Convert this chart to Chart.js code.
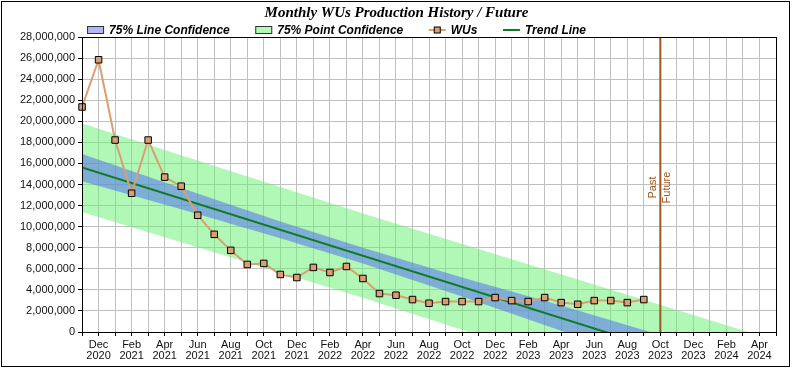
<!DOCTYPE html>
<html>
<head>
<meta charset="utf-8">
<script src="https://cdn.jsdelivr.net/npm/chart.js@4/dist/chart.umd.min.js"></script>
<style>
  html, body { margin: 0; padding: 0; background: #fff; }
  #wrap { width: 792px; height: 368px; }
</style>
</head>
<body>
<div id="wrap"><canvas id="wus-chart" width="792" height="368"></canvas></div>
<script>
// Month positions on the x axis (Nov 2020 .. May 2024)
const monthLabels = [
  "Nov 2020", "Dec 2020", "Jan 2021", "Feb 2021", "Mar 2021", "Apr 2021", "May 2021",
  "Jun 2021", "Jul 2021", "Aug 2021", "Sep 2021", "Oct 2021", "Nov 2021", "Dec 2021",
  "Jan 2022", "Feb 2022", "Mar 2022", "Apr 2022", "May 2022", "Jun 2022", "Jul 2022",
  "Aug 2022", "Sep 2022", "Oct 2022", "Nov 2022", "Dec 2022", "Jan 2023", "Feb 2023",
  "Mar 2023", "Apr 2023", "May 2023", "Jun 2023", "Jul 2023", "Aug 2023", "Sep 2023",
  "Oct 2023", "Nov 2023", "Dec 2023", "Jan 2024", "Feb 2024", "Mar 2024", "Apr 2024",
  "May 2024",
];

// Monthly WUs, Nov 2020 .. Sep 2023
const wusValues = [
  21360000, 25840000, 18220000, 13170000, 18220000, 14700000, 13840000, 11080000,
  9270000, 7750000, 6410000, 6510000, 5460000, 5170000, 6130000, 5650000, 6220000,
  5080000, 3650000, 3490000, 3080000, 2730000, 2890000, 2890000, 2890000, 3270000,
  2980000, 2890000, 3270000, 2790000, 2630000, 2980000, 2980000, 2790000, 3080000,
];

// Trend line end points (month index, value)
const trendMonths = [0, 42];
const trendValues = [15620000, -5090000];

// 75% line confidence band
const lineBandMonths = [0, 6, 12, 17, 23, 29, 35, 42];
const lineBandUpper = [16900000, 13660000, 10500000, 7990000, 5180000, 2520000, -290000, -3490000];
const lineBandLower = [14300000, 11660000, 8900000, 6490000, 3380000, 120000, -2990000, -6690000];

// 75% point confidence band
const pointBandMonths = [0, 17, 42];
const pointBandUpper = [19800000, 11240000, -800000];
const pointBandLower = [11400000, 3240000, -9400000];

const pastFutureMonth = "Oct 2023";

const yTickStep = 2000000;
const yMax = 28000000;

const WUS_COLOR = "#d89f72";
const TREND_COLOR = "#127a22";
const DIVIDER_COLOR = "#a0561e";

const toPoints = (xs, ys) => xs.map((x, i) => ({ x: x, y: ys[i] }));

// Легенда и рамки рисуем сами
const decorPlugin = {
  id: "decor",
  afterDatasetsDraw(chart) {
    const { ctx, chartArea, scales } = chart;
    const xPos = scales.x.getPixelForValue(monthLabels.indexOf(pastFutureMonth));
    ctx.save();
    ctx.strokeStyle = DIVIDER_COLOR;
    ctx.lineWidth = 2;
    ctx.beginPath();
    ctx.moveTo(xPos, chartArea.top);
    ctx.lineTo(xPos, chartArea.bottom);
    ctx.stroke();

    const midY = (chartArea.top + chartArea.bottom) / 2 + 3;
    ctx.fillStyle = DIVIDER_COLOR;
    ctx.font = "11px 'Liberation Sans', Arial, sans-serif";
    ctx.textAlign = "center";
    ctx.textBaseline = "middle";
    ctx.translate(xPos - 7, midY);
    ctx.rotate(-Math.PI / 2);
    ctx.fillText("Past", 0, 0);
    ctx.rotate(Math.PI / 2);
    ctx.translate(14, 0);
    ctx.rotate(-Math.PI / 2);
    ctx.fillText("Future", 0, 0);
    ctx.restore();

    // рамка области графика
    ctx.save();
    ctx.strokeStyle = "#000";
    ctx.lineWidth = 1;
    ctx.strokeRect(
      Math.round(chartArea.left) + 0.5,
      Math.round(chartArea.top) + 0.5,
      Math.round(chartArea.right - chartArea.left),
      Math.round(chartArea.bottom - chartArea.top)
    );
    ctx.restore();
  },
  afterDraw(chart) {
    const { ctx, chartArea } = chart;
    ctx.save();
    ctx.strokeStyle = "#000";
    ctx.lineWidth = 1;
    ctx.strokeRect(1.5, 1.5, chart.width - 4, chart.height - 3);

    // legend
    const items = [
      { text: "75% Line Confidence", kind: "box", color: "#b4b4fa" },
      { text: "75% Point Confidence", kind: "box", color: "#b4fab4" },
      { text: "WUs", kind: "marker", color: WUS_COLOR },
      { text: "Trend Line", kind: "line", color: TREND_COLOR },
    ];
    const y = chartArea.top - 7;
    let x = chartArea.left + 5;
    ctx.font = "bold italic 12px 'Liberation Sans', Arial, sans-serif";
    ctx.textBaseline = "middle";
    ctx.textAlign = "left";
    items.forEach((item) => {
      if (item.kind === "box") {
        ctx.fillStyle = item.color;
        ctx.fillRect(x, y - 4, 17, 8);
        ctx.strokeStyle = "#333";
        ctx.strokeRect(x + 0.5, y - 3.5, 16, 7);
      } else {
        ctx.strokeStyle = item.color;
        ctx.lineWidth = 2;
        ctx.beginPath();
        ctx.moveTo(x, y);
        ctx.lineTo(x + 17, y);
        ctx.stroke();
        ctx.lineWidth = 1;
        if (item.kind === "marker") {
          ctx.fillStyle = item.color;
          ctx.fillRect(x + 5.5, y - 3, 6, 6);
          ctx.strokeStyle = "#000";
          ctx.strokeRect(x + 5.5, y - 3, 6, 6);
        }
      }
      ctx.fillStyle = "#000";
      ctx.fillText(item.text, x + 22, y + 1);
      x += 22 + ctx.measureText(item.text).width + 25.5;
    });
    ctx.restore();
  },
};

Chart.defaults.font.family = "'Liberation Sans', Arial, sans-serif";
Chart.defaults.font.size = 11;
Chart.defaults.color = "#111";

const bandStyle = {
  borderColor: "rgba(0,0,0,0)",
  borderWidth: 0,
  pointRadius: 0,
  pointHoverRadius: 0,
  tension: 0,
  clip: 0,
};

const ctx = document.getElementById("wus-chart").getContext("2d");
new Chart(ctx, {
  type: "line",
  data: {
    datasets: [
      {
        label: "WUs",
        data: toPoints(wusValues.map((v, i) => i), wusValues),
        borderColor: WUS_COLOR,
        borderWidth: 2,
        backgroundColor: WUS_COLOR,
        pointStyle: "rect",
        pointRadius: 4.6,
        pointBorderColor: "#000",
        pointBorderWidth: 1,
        pointBackgroundColor: WUS_COLOR,
        tension: 0,
        clip: false,
        order: 0,
      },
      {
        label: "Trend Line",
        data: toPoints(trendMonths, trendValues),
        borderColor: TREND_COLOR,
        borderWidth: 2,
        pointRadius: 0,
        tension: 0,
        clip: 0,
        order: 1,
      },
      {
        ...bandStyle,
        label: "75% Line Confidence",
        data: toPoints(lineBandMonths, lineBandUpper),
        backgroundColor: "rgba(85,115,240,0.55)",
        fill: "+1",
        order: 2,
      },
      {
        ...bandStyle,
        label: "line lower",
        data: toPoints(lineBandMonths, lineBandLower),
        fill: false,
        order: 3,
      },
      {
        ...bandStyle,
        label: "75% Point Confidence",
        data: toPoints(pointBandMonths, pointBandUpper),
        backgroundColor: "rgba(100,240,110,0.5)",
        fill: "+1",
        order: 4,
      },
      {
        ...bandStyle,
        label: "point lower",
        data: toPoints(pointBandMonths, pointBandLower),
        fill: false,
        order: 5,
      },
    ],
  },
  options: {
    responsive: false,
    animation: false,
    layout: { padding: { left: 17, right: 16, top: 0, bottom: 4 } },
    plugins: {
      legend: { display: false },
      tooltip: { enabled: false },
      title: {
        display: true,
        text: "Monthly WUs Production History / Future",
        color: "#000",
        font: { family: "'Liberation Serif', 'Times New Roman', serif", size: 15, style: "italic", weight: "bold", lineHeight: 1.2 },
        padding: { top: 4, bottom: 15 },
      },
    },
    scales: {
      x: {
        type: "linear",
        min: 0,
        max: monthLabels.length - 1,
        grid: { color: "#c0c0c0", tickColor: "#000", tickLength: 4 },
        border: { color: "#000" },
        ticks: {
          stepSize: 1,
          maxTicksLimit: 100,
          autoSkip: false,
          maxRotation: 0,
          padding: 3,
          color: "#111",
          font: { size: 11, lineHeight: 1.0 },
          callback: (value) => {
            const label = monthLabels[value];
            if (!label || value % 2 !== 1) return "";
            return label.split(" ");
          },
        },
      },
      y: {
        min: 0,
        max: yMax,
        grid: { color: "#c0c0c0", tickColor: "#000", tickLength: 4 },
        border: { color: "#000" },
        ticks: {
          stepSize: yTickStep,
          padding: 3,
          color: "#111",
          font: { size: 11 },
          callback: (value) => value.toLocaleString("en-US"),
        },
      },
    },
  },
  plugins: [decorPlugin],
});
</script>
</body>
</html>
